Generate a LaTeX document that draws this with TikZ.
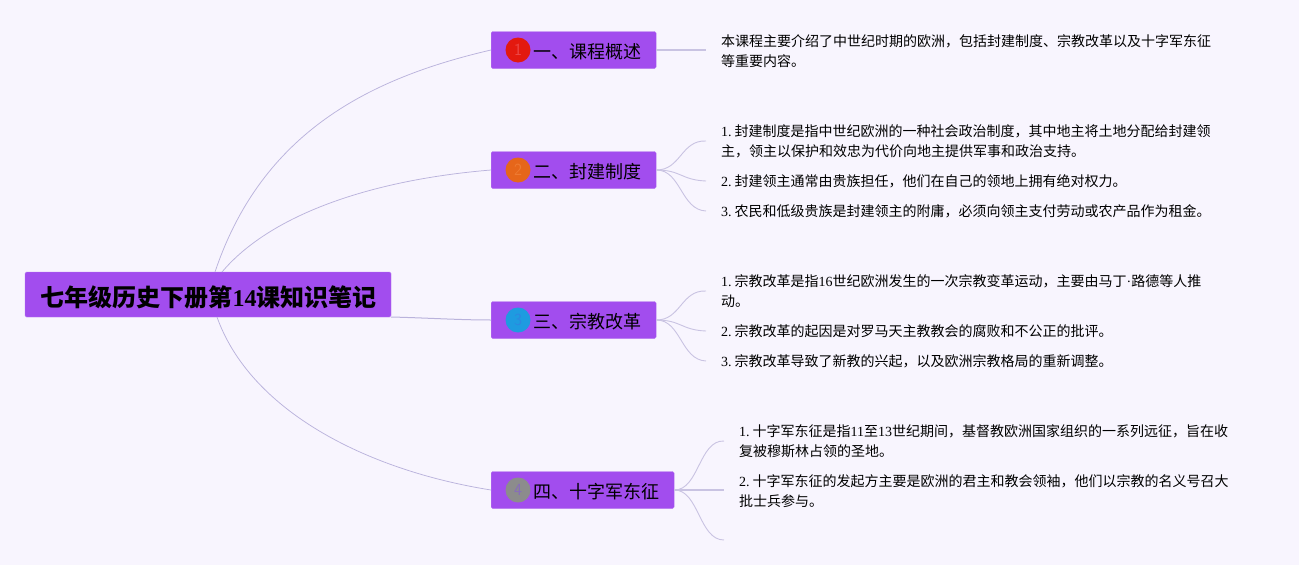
\documentclass[tikz,border=0pt]{standalone}
\usepackage{fontspec}
\setmainfont{Liberation Serif}
\newfontfamily\cjk{Noto Sans CJK SC}
\newcommand{\zh}[1]{{\cjk #1}}
\newcommand{\idx}[1]{#1.\kern3pt}
\definecolor{pagebg}{HTML}{F8F5FE}
\definecolor{boxfill}{HTML}{A24DEE}
\definecolor{boxline}{HTML}{B77BF0}
\definecolor{linkline}{HTML}{C9C3E2}
\definecolor{rootlink}{HTML}{BAB3DC}
\begin{document}
\begin{tikzpicture}[x=1pt,y=-1pt]

\tikzset{rootbox/.style = {draw=boxline,fill=boxfill,rounded corners=1.5pt,minimum width=366pt,minimum height=45pt,inner sep=0pt}}
\tikzset{branch/.style = {draw=boxline,fill=boxfill,rounded corners=1.5pt,minimum height=37pt,inner sep=0pt,anchor=west}}
\tikzset{branchtext/.style = {anchor=west,inner sep=0pt,font=\fontsize{18}{18}\selectfont}}
\tikzset{badge/.style = {shape=circle,minimum size=25pt,inner sep=0pt,font=\fontsize{17}{17}\selectfont}}
\tikzset{leaf/.style = {anchor=west,align=left,inner xsep=15pt,inner ysep=0pt,font=\fontsize{14}{20}\selectfont}}
\tikzset{link/.style = {draw=linkline,line width=0.9pt}}
\tikzset{rootedge/.style = {draw=rootlink,line width=0.75pt}}
\fill[pagebg] (0,0) rectangle (1299,565);
\useasboundingbox (0,0) rectangle (1299,565);
% root
\node[rootbox] (root) at (208,294.5) {};
\node[inner sep=0pt,font=\bfseries\fontsize{24}{24}\selectfont] (roottext) at (208.5,297) {\zh{七年级历史下册第}14\zh{课知识笔记}};
\coordinate (rootup1) at (215,272);
\coordinate (rootup2) at (222,272);
\coordinate (rootdown) at (217,317);
\coordinate (rootright) at (391,317);
% branches
\node[branch,minimum width=165pt] (b1) at (491,50) {};
\node[branch,minimum width=165pt] (b2) at (491,170) {};
\node[branch,minimum width=165pt] (b3) at (491,320) {};
\node[branch,minimum width=183pt] (b4) at (491,490) {};
\node[branchtext] (t1) at (533,51.5) {\zh{一、课程概述}};
\node[branchtext] (t2) at (533,171.5) {\zh{二、封建制度}};
\node[branchtext] (t3) at (533,321.5) {\zh{三、宗教改革}};
\node[branchtext] (t4) at (533,491.5) {\zh{四、十字军东征}};
% badges
\node[badge,fill={rgb,255:red,227;green,25;blue,15},text={rgb,255:red,236;green,70;blue,70}] (c1) at (518,50) {\sffamily 1};
\node[badge,fill={rgb,255:red,230;green,102;blue,26},text={rgb,255:red,238;green,122;blue,50}] (c2) at (518,170) {\sffamily 2};
\node[badge,fill={rgb,255:red,30;green,155;blue,224},text={rgb,255:red,45;green,135;blue,225}] (c3) at (518,320) {\sffamily 3};
\node[badge,fill={rgb,255:red,140;green,140;blue,140},text={rgb,255:red,135;green,110;blue,185}] (c4) at (518,490) {\sffamily 4};
% leaves
\node[leaf] (l1) at (706,51) {\zh{本课程主要介绍了中世纪时期的欧洲，包括封建制度、宗教改革以及十字军东征}\\\zh{等重要内容。}};
\node[leaf] (l21) at (706,141) {\idx{1}\zh{封建制度是指中世纪欧洲的一种社会政治制度，其中地主将土地分配给封建领}\\\zh{主，领主以保护和效忠为代价向地主提供军事和政治支持。}};
\node[leaf] (l22) at (706,181) {\idx{2}\zh{封建领主通常由贵族担任，他们在自己的领地上拥有绝对权力。}};
\node[leaf] (l23) at (706,211) {\idx{3}\zh{农民和低级贵族是封建领主的附庸，必须向领主支付劳动或农产品作为租金。}};
\node[leaf] (l31) at (706,291) {\idx{1}\zh{宗教改革是指}16\zh{世纪欧洲发生的一次宗教变革运动，主要由马丁}·\zh{路德等人推}\\\zh{动。}};
\node[leaf] (l32) at (706,331) {\idx{2}\zh{宗教改革的起因是对罗马天主教教会的腐败和不公正的批评。}};
\node[leaf] (l33) at (706,361) {\idx{3}\zh{宗教改革导致了新教的兴起，以及欧洲宗教格局的重新调整。}};
\node[leaf] (l41) at (724,441) {\idx{1}\zh{十字军东征是指}11\zh{至}13\zh{世纪期间，基督教欧洲国家组织的一系列远征，旨在收}\\\zh{复被穆斯林占领的圣地。}};
\node[leaf] (l42) at (724,491) {\idx{2}\zh{十字军东征的发起方主要是欧洲的君主和教会领袖，他们以宗教的名义号召大}\\\zh{批士兵参与。}};
\coordinate (l43) at (724,540);
% edges
\draw[rootedge] (rootup1) .. controls (262,132) and (370,78) .. (b1.west);
\draw[rootedge] (rootup2) .. controls (270,215) and (370,180) .. (b2.west);
\draw[rootedge,line width=1pt] (rootright) .. controls (430,318) and (460,320) .. (b3.west);
\draw[rootedge] (rootdown) .. controls (250,410) and (365,470) .. (b4.west);
\draw[link,line width=1.2pt] (b1.east) -- (l1.west |- b1.east);
\draw[link] (b2.east) .. controls (681,170) and (681,140) .. (l21.west);
\draw[link] (b2.east) .. controls (681,170) and (681,180) .. (l22.west);
\draw[link] (b2.east) .. controls (681,170) and (681,210) .. (l23.west);
\draw[link] (b3.east) .. controls (681,320) and (681,290) .. (l31.west);
\draw[link] (b3.east) .. controls (681,320) and (681,330) .. (l32.west);
\draw[link] (b3.east) .. controls (681,320) and (681,360) .. (l33.west);
\draw[link] (b4.east) .. controls (699,490) and (699,440) .. (l41.west);
\draw[link,line width=1.2pt] (b4.east) -- (l42.west |- b4.east);
\draw[link] (b4.east) .. controls (699,490) and (699,540) .. (l43);
\end{tikzpicture}
\end{document}
